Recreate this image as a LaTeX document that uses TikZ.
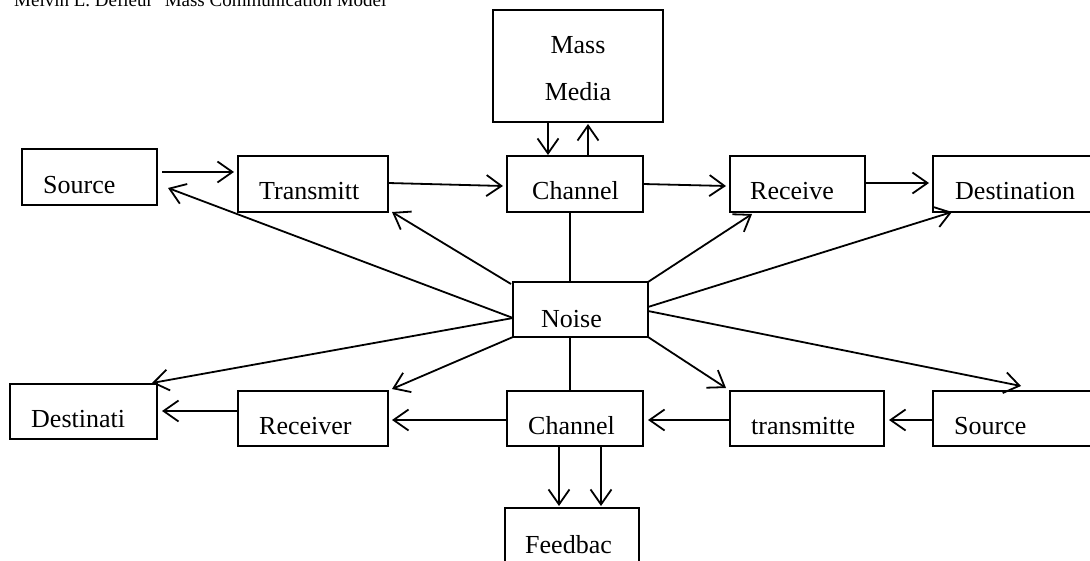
\documentclass[tikz,border=0pt]{standalone}
\usepackage{fontspec}
\setmainfont{Liberation Serif}
\usetikzlibrary{arrows.meta,calc}
\begin{document}
\begin{tikzpicture}[x=1pt,y=-1pt,
  box/.style={draw=black,line width=2pt,minimum height=56pt,inner sep=0pt,outer sep=0pt},
  lbl/.style={anchor=base west,inner sep=0pt,font=\fontsize{26}{30}\selectfont},
  arr/.style={line width=1.8pt,-{Straight Barb[length=15pt,width=21pt,line width=1.8pt]}},
  ln/.style={line width=1.8pt}]
\useasboundingbox (0,0) rectangle (1090,561);
\clip (0,0) rectangle (1090,561);
\fill[white] (0,0) rectangle (1090,561);
% title (cut by the top edge)
\node[anchor=base west,inner sep=0pt,font=\fontsize{19}{22}\selectfont] (title) at (14,7) {Melvin L. Defleur' Mass Communication Model};
% boxes
\node[box,minimum width=170pt,minimum height=112pt] (mm) at (578,66) {};
\node[box,minimum width=135pt] (src1) at (89.5,177) {};
\node[box,minimum width=150pt] (tr1) at (313,184) {};
\node[box,minimum width=136pt] (ch1) at (575,184) {};
\node[box,minimum width=135pt] (rc1) at (797.5,184) {};
\node[box,minimum width=170pt] (ds1) at (1018,184) {};
\node[box,minimum width=135pt,minimum height=55pt] (noise) at (580.5,309.5) {};
\node[box,minimum width=147pt,minimum height=55pt] (ds2) at (83.5,411.5) {};
\node[box,minimum width=150pt,minimum height=55pt] (rc2) at (313,418.5) {};
\node[box,minimum width=136pt,minimum height=55pt] (ch2) at (575,418.5) {};
\node[box,minimum width=154pt,minimum height=55pt] (tr2) at (807,418.5) {};
\node[box,minimum width=170pt,minimum height=55pt] (src2) at (1018,418.5) {};
\node[box,minimum width=134pt,minimum height=70pt] (fb) at (572,543) {};
% labels
\node[lbl,anchor=base] (tmass) at (578,54) {Mass};
\node[lbl,anchor=base] (tmedia) at (578,101) {Media};
\node[lbl] (tsrc1) at (43,194) {Source};
\node[lbl] (ttr1) at (259,200) {Transmitt};
\node[lbl] (tch1) at (532,200) {Channel};
\node[lbl] (trc1) at (750,200) {Receive};
\node[lbl] (tds1) at (955,200) {Destination};
\node[lbl] (tnoise) at (541,327) {Noise};
\node[lbl] (tds2) at (31,427) {Destinati};
\node[lbl] (trc2) at (259,434) {Receiver};
\node[lbl] (tch2) at (528,434) {Channel};
\node[lbl] (ttr2) at (751,434) {transmitte};
\node[lbl] (tsrc2) at (954,434) {Source};
\node[lbl] (tfb) at (525,553) {Feedbac};
% top row
\draw[arr] ($(src1.east)+(5,-5)$) -- ($(tr1.west)+(-4,-12)$);
\draw[arr] ($(tr1.east)+(0,-1)$) -- ($(ch1.west)+(-4,2)$);
\draw[arr] ($(ch1.east)+(0,0)$) -- ($(rc1.west)+(-4,2)$);
\draw[arr] ($(rc1.east)+(0,-1)$) -- ($(ds1.west)+(-4,-1)$);
% mass media
\draw[arr] ($(mm.south)+(-30,0)$) -- ($(ch1.north)+(-27,-1)$);
\draw[arr] ($(ch1.north)+(13,0)$) -- ($(mm.south)+(10,2)$);
% noise links
\draw[ln] ($(ch1.south)+(-5,0)$) -- ($(noise.north)+(-10.5,0)$);
\draw[ln] ($(noise.south)+(-10.5,0)$) -- ($(ch2.north)+(-5,0)$);
\draw[arr] ($(noise.west)+(0,8.5)$) -- ($(src1.east)+(11,11)$);
\draw[arr] ($(noise.north west)+(-2,2)$) -- ($(tr1.south east)+(4,0)$);
\draw[arr] (noise.north east) -- ($(rc1.south west)+(22,2)$);
\draw[arr] ($(noise.east)+(0,-2.5)$) -- ($(ds1.south west)+(19,0)$);
\draw[arr] ($(noise.west)+(0,8.5)$) -- ($(ds2.north east)+(-5,-1)$);
\draw[arr] (noise.south west) -- ($(rc2.north east)+(4,-2)$);
\draw[arr] (noise.south east) -- ($(tr2.north west)+(-4,-3)$);
\draw[arr] ($(noise.east)+(0,1.5)$) -- ($(src2.north west)+(88,-5)$);
% bottom row
\draw[arr] ($(rc2.west)+(0,-7.5)$) -- ($(ds2.east)+(5,-0.5)$);
\draw[arr] ($(ch2.west)+(0,1.5)$) -- ($(rc2.east)+(4,1.5)$);
\draw[arr] ($(tr2.west)+(0,1.5)$) -- ($(ch2.east)+(5,1.5)$);
\draw[arr] ($(src2.west)+(0,1.5)$) -- ($(tr2.east)+(5,1.5)$);
% feedback
\draw[arr] ($(ch2.south)+(-16,0)$) -- ($(fb.north)+(-13,-2)$);
\draw[arr] ($(ch2.south)+(26,0)$) -- ($(fb.north)+(29,-2)$);
\end{tikzpicture}
\end{document}
